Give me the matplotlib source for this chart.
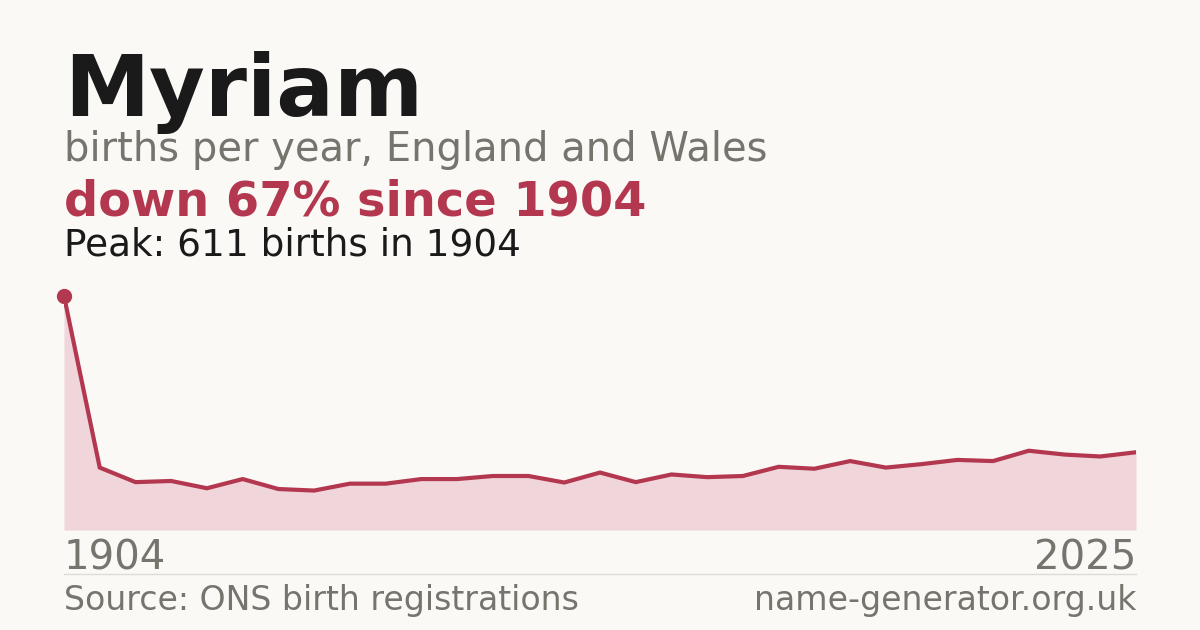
import numpy as np
import matplotlib.pyplot as plt

# births per year for the name, first point is 1904 then the ONS series 1996-2025
years = [1904] + list(range(1996, 2026))
births = [611, 163, 125, 128, 109, 133, 107, 103, 121, 121, 133, 133, 141, 141, 124,
          150, 125, 145, 138, 141, 165, 160, 180, 163, 172, 183, 180, 207, 197, 192, 203]

title = "Myriam"
subtitle = "births per year, England and Wales"
change_text = "down 67% since 1904"
peak_text = "Peak: 611 births in 1904"
source_text = "Source: ONS birth registrations"
site_text = "name-generator.org.uk"

bg = "#faf9f5"
red = "#b3384f"
fill = "#f0d5da"
grey = "#77736d"
dark = "#1a1a1a"


def main():
    plt.rcParams['font.family'] = ['DejaVu Sans']
    fig = plt.figure(figsize=(12, 6.3), dpi=100, facecolor=bg)

    W, H = 1200, 630
    # chart area: baseline at y=530px, peak at y=296px
    ax = fig.add_axes([64 / W, 100 / H, 1072 / W, 240 / H])
    ax.set_facecolor(bg)
    x = np.arange(len(births))
    ax.fill_between(x, births, 0, color=fill, lw=0)
    ax.plot(x, births, color=red, lw=3, solid_joinstyle='miter')
    ax.plot(x[0], births[0], 'o', color=red, ms=10, clip_on=False, zorder=5)
    ax.set_xlim(0, len(births) - 1)
    ax.set_ylim(0, 611 * 240 / 234)
    ax.axis('off')

    fig.text(64 / W, 1 - 116 / H, title, fontsize=61.6, fontweight='bold', color=dark,
             va='baseline', ha='left')
    fig.text(64 / W, 1 - 161 / H, subtitle, fontsize=28.8, color=grey,
             va='baseline', ha='left')
    fig.text(64 / W, 1 - 215 / H, change_text, fontsize=34.5, fontweight='bold', color=red,
             va='baseline', ha='left')
    fig.text(64 / W, 1 - 255 / H, peak_text, fontsize=26.9, color=dark,
             va='baseline', ha='left')

    fig.text(64 / W, 1 - 570 / H, str(years[0]), fontsize=28.9, color=grey,
             va='baseline', ha='left')
    fig.text(1136 / W, 1 - 570 / H, str(years[-1]), fontsize=28.9, color=grey,
             va='baseline', ha='right')

    fig.add_artist(plt.Line2D([64 / W, 1136 / W], [1 - 574 / H, 1 - 574 / H],
                              color="#dddbd5", lw=1))

    fig.text(64 / W, 1 - 610 / H, source_text, fontsize=23.9, color=grey,
             va='baseline', ha='left')
    fig.text(1136 / W, 1 - 610 / H, site_text, fontsize=23.9, color=grey,
             va='baseline', ha='right')

    fig.savefig("out.png", dpi=100, facecolor=bg)


if __name__ == "__main__":
    main()
